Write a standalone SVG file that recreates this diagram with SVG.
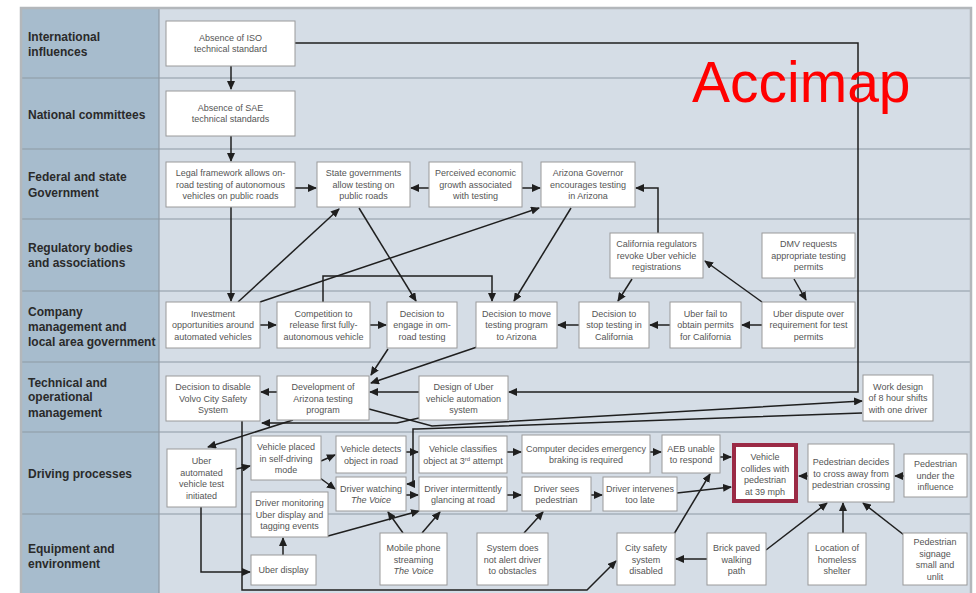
<svg xmlns="http://www.w3.org/2000/svg" width="976" height="593" viewBox="0 0 976 593">
<style>
.lane{font-family:"Liberation Sans",Arial,sans-serif;font-weight:bold;font-size:12px;fill:#2a2a2a}
.n rect{fill:#fff;stroke:#9a9a9a;stroke-width:1}
.n text{font-family:"Liberation Sans",Arial,sans-serif;font-size:9px;fill:#555;text-anchor:middle}
.c path{fill:none;stroke:#1f1f1f;stroke-width:1.5}
.div{stroke:#8e99a4;stroke-width:1.2}
</style>
<defs>
<marker id="ah" markerUnits="userSpaceOnUse" markerWidth="9" markerHeight="8" refX="8" refY="4" orient="auto"><path d="M0,0 L9,4 L0,8 z" fill="#1f1f1f"/></marker>
</defs>
<rect x="0" y="0" width="976" height="593" fill="#fff"/>
<rect x="21" y="8" width="950" height="590" fill="#d5dde6"/>
<rect x="21" y="8" width="138" height="590" fill="#a7bccd"/>
<g>
<line class="div" x1="21" y1="78" x2="971" y2="78"/>
<line class="div" x1="21" y1="149" x2="971" y2="149"/>
<line class="div" x1="21" y1="219" x2="971" y2="219"/>
<line class="div" x1="21" y1="291" x2="971" y2="291"/>
<line class="div" x1="21" y1="362" x2="971" y2="362"/>
<line class="div" x1="21" y1="432" x2="971" y2="432"/>
<line class="div" x1="21" y1="514" x2="971" y2="514"/>
<line class="div" x1="159" y1="8" x2="159" y2="593"/>
<path d="M21,598 L21,8 L971,8 L971,598" fill="none" stroke="#b3b7bb" stroke-width="2.5"/>
</g>
<g id="lanes">
<text class="lane" x="28" y="41">International</text>
<text class="lane" x="28" y="56">influences</text>
<text class="lane" x="28" y="119">National committees</text>
<text class="lane" x="28" y="181">Federal and state</text>
<text class="lane" x="28" y="197">Government</text>
<text class="lane" x="28" y="252">Regulatory bodies</text>
<text class="lane" x="28" y="267">and associations</text>
<text class="lane" x="28" y="316">Company</text>
<text class="lane" x="28" y="331">management and</text>
<text class="lane" x="28" y="346">local area government</text>
<text class="lane" x="28" y="387">Technical and</text>
<text class="lane" x="28" y="401">operational</text>
<text class="lane" x="28" y="417">management</text>
<text class="lane" x="28" y="478">Driving processes</text>
<text class="lane" x="28" y="553">Equipment and</text>
<text class="lane" x="28" y="568">environment</text>
</g>
<g class="c" id="connectors">
<path d="M231,66 L231,89" marker-end="url(#ah)"/>
<path d="M231,136 L231,161" marker-end="url(#ah)"/>
<path d="M295,43 L858,43 L858,392 L509,392" marker-end="url(#ah)"/>
<path d="M295,188 L316,188" marker-end="url(#ah)"/>
<path d="M429,188 L411,188" marker-end="url(#ah)"/>
<path d="M522,188 L540,188" marker-end="url(#ah)"/>
<path d="M658,233 L658,188 L636,188" marker-end="url(#ah)"/>
<path d="M231,207 L231,301" marker-end="url(#ah)"/>
<path d="M238,302 L339,209" marker-end="url(#ah)"/>
<path d="M260,302 L539,208" marker-end="url(#ah)"/>
<path d="M359,208 L416,301" marker-end="url(#ah)"/>
<path d="M571,208 L514,301" marker-end="url(#ah)"/>
<path d="M323,302 L323,276 L492,276 L492,301" marker-end="url(#ah)"/>
<path d="M794,279 L806,300" marker-end="url(#ah)"/>
<path d="M762,302 L705,261" marker-end="url(#ah)"/>
<path d="M632,279 L618,301" marker-end="url(#ah)"/>
<path d="M260,325 L276,325" marker-end="url(#ah)"/>
<path d="M370,325 L386,325" marker-end="url(#ah)"/>
<path d="M579,325 L558,325" marker-end="url(#ah)"/>
<path d="M670,325 L650,325" marker-end="url(#ah)"/>
<path d="M762,325 L742,325" marker-end="url(#ah)"/>
<path d="M388,349 L371,375" marker-end="url(#ah)"/>
<path d="M477,347 L371,383" marker-end="url(#ah)"/>
<path d="M419,392 L370,392" marker-end="url(#ah)"/>
<path d="M277,392 L261,392" marker-end="url(#ah)"/>
<path d="M293,420 L208,447" marker-end="url(#ah)"/>
<path d="M369,409 L432,426 L862,401" marker-end="url(#ah)"/>
<path d="M862,413 L417,429 L413,429 L413,484 L407,484" marker-end="url(#ah)"/>
<path d="M419,418 L397,423 L262,423" marker-end="url(#ah)"/>
<path d="M242,421 L242,590 L587,590 L616,561" marker-end="url(#ah)"/>
<path d="M201,507 L201,572 L250,572" marker-end="url(#ah)"/>
<path d="M236,469 L250,466" marker-end="url(#ah)"/>
<path d="M321,461 L335,455" marker-end="url(#ah)"/>
<path d="M320,478 L335,489" marker-end="url(#ah)"/>
<path d="M406,452 L418,452" marker-end="url(#ah)"/>
<path d="M406,495 L418,495" marker-end="url(#ah)"/>
<path d="M507,452 L521,452" marker-end="url(#ah)"/>
<path d="M650,452 L661,452" marker-end="url(#ah)"/>
<path d="M720,457 L731,457" marker-end="url(#ah)"/>
<path d="M507,495 L521,495" marker-end="url(#ah)"/>
<path d="M591,495 L602,495" marker-end="url(#ah)"/>
<path d="M677,493 L731,487" marker-end="url(#ah)"/>
<path d="M808,476 L799,476" marker-end="url(#ah)"/>
<path d="M904,476 L895,476" marker-end="url(#ah)"/>
<path d="M766,550 L827,503" marker-end="url(#ah)"/>
<path d="M843,533 L843,503" marker-end="url(#ah)"/>
<path d="M904,535 L863,503" marker-end="url(#ah)"/>
<path d="M707,559 L676,559" marker-end="url(#ah)"/>
<path d="M674,534 L710,474" marker-end="url(#ah)"/>
<path d="M524,533 L543,512" marker-end="url(#ah)"/>
<path d="M403,533 L388,512" marker-end="url(#ah)"/>
<path d="M422,533 L440,512" marker-end="url(#ah)"/>
<path d="M328,536 L419,511" marker-end="url(#ah)"/>
<path d="M283,555 L283,538" marker-end="url(#ah)"/>
</g>
<g class="n" id="n1"><rect x="166" y="21" width="129" height="45"/><text x="230.5" y="41">Absence of ISO</text><text x="230.5" y="52">technical standard</text></g>
<g class="n" id="n2"><rect x="166" y="91" width="129" height="45"/><text x="230.5" y="111">Absence of SAE</text><text x="230.5" y="122">technical standards</text></g>
<g class="n" id="n3"><rect x="166" y="162" width="129" height="45"/><text x="230.5" y="176">Legal framework allows on-</text><text x="230.5" y="187.5">road testing of autonomous</text><text x="230.5" y="199">vehicles on public roads</text></g>
<g class="n" id="n4"><rect x="317" y="162" width="93" height="45"/><text x="363.5" y="176">State governments</text><text x="363.5" y="187.5">allow testing on</text><text x="363.5" y="199">public roads</text></g>
<g class="n" id="n5"><rect x="429" y="162" width="93" height="45"/><text x="475.5" y="176">Perceived economic</text><text x="475.5" y="187.5">growth associated</text><text x="475.5" y="199">with testing</text></g>
<g class="n" id="n6"><rect x="541" y="162" width="94" height="45"/><text x="588" y="176">Arizona Governor</text><text x="588" y="187.5">encourages testing</text><text x="588" y="199">in Arizona</text></g>
<g class="n" id="n7"><rect x="610" y="233" width="93" height="45"/><text x="656.5" y="247">California regulators</text><text x="656.5" y="258.5">revoke Uber vehicle</text><text x="656.5" y="270">registrations</text></g>
<g class="n" id="n8"><rect x="762" y="233" width="93" height="45"/><text x="808.5" y="247">DMV requests</text><text x="808.5" y="258.5">appropriate testing</text><text x="808.5" y="270">permits</text></g>
<g class="n" id="n9"><rect x="166" y="302" width="94" height="46"/><text x="213" y="316.5">Investment</text><text x="213" y="328">opportunities around</text><text x="213" y="339.5">automated vehicles</text></g>
<g class="n" id="n10"><rect x="277" y="302" width="93" height="46"/><text x="323.5" y="316.5">Competition to</text><text x="323.5" y="328">release first fully-</text><text x="323.5" y="339.5">autonomous vehicle</text></g>
<g class="n" id="n11"><rect x="387" y="302" width="70" height="46"/><text x="422" y="316.5">Decision to</text><text x="422" y="328">engage in om-</text><text x="422" y="339.5">road testing</text></g>
<g class="n" id="n12"><rect x="476" y="302" width="81" height="46"/><text x="516.5" y="316.5">Decision to move</text><text x="516.5" y="328">testing program</text><text x="516.5" y="339.5">to Arizona</text></g>
<g class="n" id="n13"><rect x="579" y="302" width="70" height="46"/><text x="614" y="316.5">Decision to</text><text x="614" y="328">stop testing in</text><text x="614" y="339.5">California</text></g>
<g class="n" id="n14"><rect x="670" y="302" width="71" height="46"/><text x="705.5" y="316.5">Uber fail to</text><text x="705.5" y="328">obtain permits</text><text x="705.5" y="339.5">for California</text></g>
<g class="n" id="n15"><rect x="762" y="302" width="93" height="46"/><text x="808.5" y="316.5">Uber dispute over</text><text x="808.5" y="328">requirement for test</text><text x="808.5" y="339.5">permits</text></g>
<g class="n" id="n16"><rect x="166" y="376" width="94" height="45"/><text x="213" y="390">Decision to disable</text><text x="213" y="401.5">Volvo City Safety</text><text x="213" y="413">System</text></g>
<g class="n" id="n17"><rect x="277" y="376" width="92" height="44"/><text x="323" y="390">Development of</text><text x="323" y="401.5">Arizona testing</text><text x="323" y="413">program</text></g>
<g class="n" id="n18"><rect x="419" y="376" width="89" height="44"/><text x="463.5" y="390">Design of Uber</text><text x="463.5" y="401.5">vehicle automation</text><text x="463.5" y="413">system</text></g>
<g class="n" id="n19"><rect x="863" y="375" width="70" height="46"/><text x="898" y="389.5">Work design</text><text x="898" y="401">of 8 hour shifts</text><text x="898" y="412.5">with one driver</text></g>
<g class="n" id="n20"><rect x="167" y="449" width="69" height="58"/><text x="201.5" y="464">Uber</text><text x="201.5" y="475.5">automated</text><text x="201.5" y="487">vehicle test</text><text x="201.5" y="498.5">initiated</text></g>
<g class="n" id="n21"><rect x="251" y="436" width="70" height="44"/><text x="286" y="450">Vehicle placed</text><text x="286" y="461.5">in self-driving</text><text x="286" y="473">mode</text></g>
<g class="n" id="n22"><rect x="336" y="436" width="70" height="37"/><text x="371" y="452">Vehicle detects</text><text x="371" y="463.5">object in road</text></g>
<g class="n" id="n23"><rect x="336" y="477" width="70" height="34"/><text x="371" y="491.5">Driver watching</text><text x="371" y="503" font-style="italic">The Voice</text></g>
<g class="n" id="n24"><rect x="419" y="436" width="88" height="37"/><text x="463" y="452">Vehicle classifies</text><text x="463" y="463.5">object at 3<tspan font-size="6" dy="-3">rd</tspan><tspan dy="3"> attempt</tspan></text></g>
<g class="n" id="n25"><rect x="419" y="477" width="88" height="34"/><text x="463" y="491.5">Driver intermittently</text><text x="463" y="503">glancing at road</text></g>
<g class="n" id="n26"><rect x="522" y="435" width="128" height="38"/><text x="586" y="451.5">Computer decides emergency</text><text x="586" y="463">braking is required</text></g>
<g class="n" id="n27"><rect x="662" y="435" width="58" height="38"/><text x="691" y="451.5">AEB unable</text><text x="691" y="463">to respond</text></g>
<g class="n" id="n28"><rect x="522" y="477" width="69" height="34"/><text x="556.5" y="491.5">Driver sees</text><text x="556.5" y="503">pedestrian</text></g>
<g class="n" id="n29"><rect x="603" y="477" width="74" height="34"/><text x="640" y="491.5">Driver intervenes</text><text x="640" y="503">too late</text></g>
<g class="n" id="n30"><rect x="734" y="445" width="62" height="56" style="stroke:#9b2a45;stroke-width:4"/><text x="765" y="460">Vehicle</text><text x="765" y="471.5">collides with</text><text x="765" y="483">pedestrian</text><text x="765" y="494.5">at 39 mph</text></g>
<g class="n" id="n31"><rect x="808" y="444" width="86" height="58"/><text x="851" y="465">Pedestrian decides</text><text x="851" y="476.5">to cross away from</text><text x="851" y="488">pedestrian crossing</text></g>
<g class="n" id="n32"><rect x="904" y="454" width="63" height="43"/><text x="935.5" y="467">Pedestrian</text><text x="935.5" y="478.5">under the</text><text x="935.5" y="490">influence</text></g>
<g class="n" id="n33"><rect x="251" y="492" width="77" height="45"/><text x="289.5" y="506">Driver monitoring</text><text x="289.5" y="517.5">Uber display and</text><text x="289.5" y="529">tagging events</text></g>
<g class="n" id="n34"><rect x="251" y="555" width="65" height="30"/><text x="283.5" y="573">Uber display</text></g>
<g class="n" id="n35"><rect x="380" y="533" width="67" height="52"/><text x="413.5" y="551">Mobile phone</text><text x="413.5" y="562.5">streaming</text><text x="413.5" y="574" font-style="italic">The Voice</text></g>
<g class="n" id="n36"><rect x="477" y="533" width="71" height="52"/><text x="512.5" y="551">System does</text><text x="512.5" y="562.5">not alert driver</text><text x="512.5" y="574">to obstacles</text></g>
<g class="n" id="n37"><rect x="617" y="533" width="58" height="52"/><text x="646" y="551">City safety</text><text x="646" y="562.5">system</text><text x="646" y="574">disabled</text></g>
<g class="n" id="n38"><rect x="707" y="533" width="59" height="52"/><text x="736.5" y="551">Brick paved</text><text x="736.5" y="562.5">walking</text><text x="736.5" y="574">path</text></g>
<g class="n" id="n39"><rect x="808" y="533" width="58" height="52"/><text x="837" y="551">Location of</text><text x="837" y="562.5">homeless</text><text x="837" y="574">shelter</text></g>
<g class="n" id="n40"><rect x="903" y="533" width="64" height="52"/><text x="935" y="545">Pedestrian</text><text x="935" y="556.5">signage</text><text x="935" y="568">small and</text><text x="935" y="579.5">unlit</text></g>
<text x="692" y="102" font-family="'Liberation Sans',Arial,sans-serif" font-size="57" fill="#ff0000">Accimap</text>
</svg>
